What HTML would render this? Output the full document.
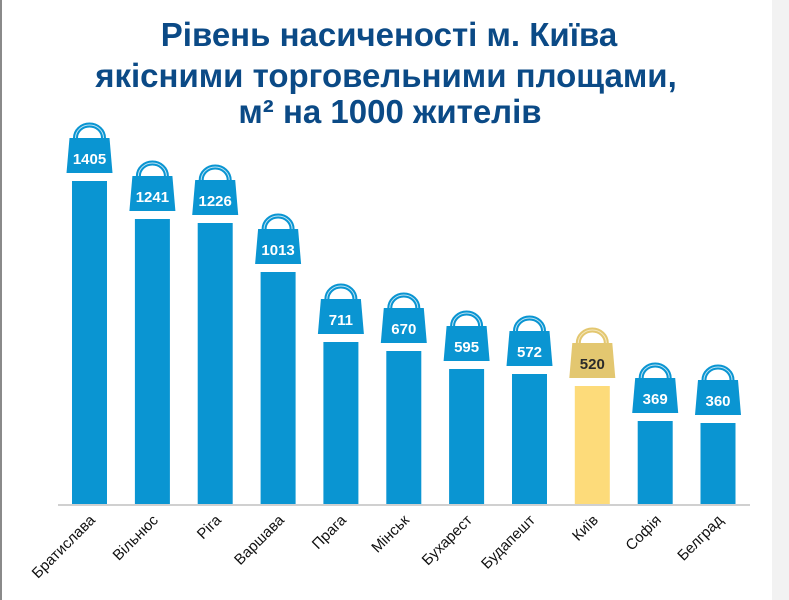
<!DOCTYPE html>
<html><head><meta charset="utf-8"><style>
html,body{margin:0;padding:0;background:#fff;}
svg{display:block;}
text{font-family:"Liberation Sans",Arial,sans-serif;}
</style></head><body>
<svg width="789" height="600" viewBox="0 0 789 600" xmlns="http://www.w3.org/2000/svg">
<rect x="0" y="0" width="789" height="600" fill="#fff"/>
<rect x="0" y="0" width="2" height="600" fill="#8a8a8a"/>
<rect x="772" y="0" width="17" height="600" fill="#f2f2f2"/>
<g fill="#0b4a86" font-weight="bold" font-size="33" text-anchor="middle">
<text x="389" y="46">Рівень насиченості м. Київа</text>
<text x="386" y="87">якісними торговельними площами,</text>
<text x="390" y="123">м² на 1000 жителів</text>
</g>
<defs>
<g id="bagB">
<path d="M-14,-43 A14,13 0 0 1 14,-43" fill="none" stroke="#0a95d2" stroke-width="5"/>
<path d="M-14,-43 A14,13 0 0 1 14,-43" fill="none" stroke="#bfe3f3" stroke-width="1"/>
<path d="M-20,-43 L20,-43 L23,-8 L-23,-8 Z" fill="#0a95d2"/>
</g>
<g id="bagY">
<path d="M-14,-43 A14,13 0 0 1 14,-43" fill="none" stroke="#e3c770" stroke-width="5"/>
<path d="M-14,-43 A14,13 0 0 1 14,-43" fill="none" stroke="#f5e8bf" stroke-width="1"/>
<path d="M-20,-43 L20,-43 L23,-8 L-23,-8 Z" fill="#e3c770"/>
</g>
</defs>
<rect x="58" y="504" width="692" height="2" fill="#d0d0d0"/>
<g fill="#0a95d2">
<rect x="72" y="181" width="35" height="323"/>
<rect x="134.9" y="219" width="35" height="285"/>
<rect x="197.7" y="223" width="35" height="281"/>
<rect x="260.6" y="272" width="35" height="232"/>
<rect x="323.4" y="342" width="35" height="162"/>
<rect x="386.3" y="351" width="35" height="153"/>
<rect x="449.1" y="369" width="35" height="135"/>
<rect x="512" y="374" width="35" height="130"/>
<rect x="637.7" y="421" width="35" height="83"/>
<rect x="700.5" y="423" width="35" height="81"/>
</g>
<rect x="574.8" y="386" width="35" height="118" fill="#fddb7a"/>
<use href="#bagB" x="89.5" y="181"/>
<use href="#bagB" x="152.4" y="219"/>
<use href="#bagB" x="215.2" y="223"/>
<use href="#bagB" x="278.1" y="272"/>
<use href="#bagB" x="340.9" y="342"/>
<use href="#bagB" x="403.8" y="351"/>
<use href="#bagB" x="466.6" y="369"/>
<use href="#bagB" x="529.5" y="374"/>
<use href="#bagY" x="592.3" y="386"/>
<use href="#bagB" x="655.2" y="421"/>
<use href="#bagB" x="718" y="423"/>
<g fill="#fff" font-weight="bold" font-size="15" text-anchor="middle">
<text x="89.5" y="164">1405</text>
<text x="152.4" y="202">1241</text>
<text x="215.2" y="206">1226</text>
<text x="278.1" y="255">1013</text>
<text x="340.9" y="325">711</text>
<text x="403.8" y="334">670</text>
<text x="466.6" y="352">595</text>
<text x="529.5" y="357">572</text>
<text x="592.3" y="369" fill="#2a2a2a">520</text>
<text x="655.2" y="404">369</text>
<text x="718" y="406">360</text>
</g>
<g fill="#111" font-size="15" text-anchor="end">
<text transform="translate(96,521) rotate(-45)">Братислава</text>
<text transform="translate(159,521) rotate(-45)">Вільнюс</text>
<text transform="translate(222,521) rotate(-45)">Ріга</text>
<text transform="translate(285,521) rotate(-45)">Варшава</text>
<text transform="translate(347,521) rotate(-45)">Прага</text>
<text transform="translate(410,521) rotate(-45)">Мінськ</text>
<text transform="translate(473,521) rotate(-45)">Бухарест</text>
<text transform="translate(536,521) rotate(-45)">Будапешт</text>
<text transform="translate(599,521) rotate(-45)">Київ</text>
<text transform="translate(662,521) rotate(-45)">Софія</text>
<text transform="translate(724,521) rotate(-45)">Белград</text>
</g>
</svg>
</body></html>
